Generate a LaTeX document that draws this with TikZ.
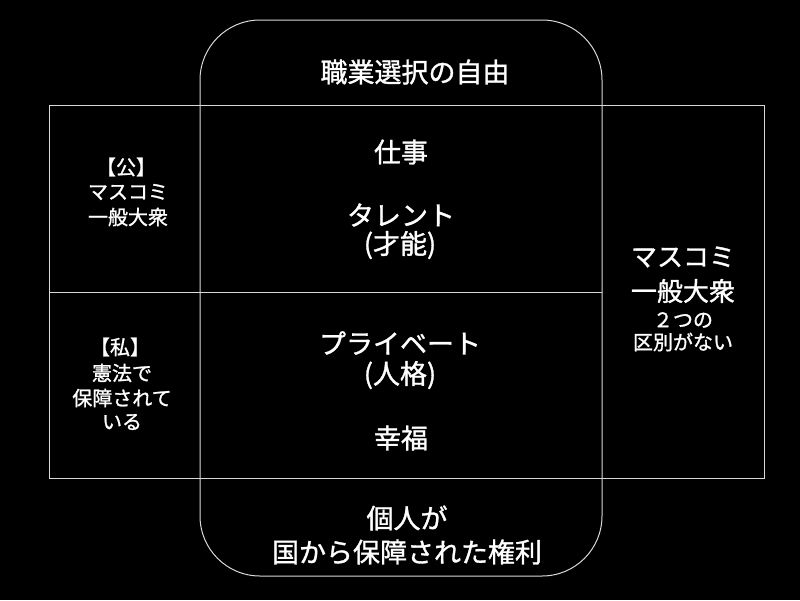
\documentclass[tikz,border=0pt]{standalone}
\usepackage{fontspec}
\newfontfamily\jp[BoldFont={Noto Sans CJK JP},BoldFeatures={FakeBold=1.2}]{Noto Sans CJK JP}
\begin{document}
\begin{tikzpicture}[x=1pt,y=-1pt,
  frame/.style={draw=white!85!black,line width=1pt},
  big/.style={text=white,font=\jp\bfseries\fontsize{27}{32}\selectfont,inner sep=0pt,anchor=center},
  mid/.style={text=white,font=\jp\bfseries\fontsize{26}{30}\selectfont,inner sep=0pt,anchor=center},
  small/.style={text=white,font=\jp\bfseries\fontsize{20}{24}\selectfont,inner sep=0pt,anchor=center}]
\fill[black] (0,0) rectangle (800,600);
\useasboundingbox (0,0) rectangle (800,600);
% frames
\draw[frame,rounded corners=60pt] (200,20) rectangle (602,576);
\draw[frame] (49,105) rectangle (764,478);
\draw[frame] (49,292) -- (602,292);
% top / bottom
\node[big] (title) at (415,72) {職業選択の自由};
\node[big] (b1) at (407,518) {個人が};
\node[big] (b2) at (407,552) {国から保障された権利};
% center upper
\node[big] (work) at (401,152) {仕事};
\node[big] (talent) at (401,215) {タレント};
\node[big] (talent2) at (400,245) {(才能)};
% center lower
\node[big] (priv) at (400,343) {プライベート};
\node[big] (priv2) at (400,375) {(人格)};
\node[big] (happy) at (401,438) {幸福};
% left upper
\node[small] (lu1) at (126,167) {【公】};
\node[small] (lu2) at (128,192) {マスコミ};
\node[small] (lu3) at (128,217) {一般大衆};
% left lower
\node[small] (ll1) at (120,347) {【私】};
\node[small] (ll2) at (122,373) {憲法で};
\node[small] (ll3) at (122,398) {保障されて};
\node[small] (ll4) at (122,422) {いる};
% right
\node[mid] (r1) at (683,257) {マスコミ};
\node[mid] (r2) at (683,291) {一般大衆};
\node[small] (r3) at (683,320) {２つの};
\node[small] (r4) at (683,342) {区別がない};
\end{tikzpicture}
\end{document}
